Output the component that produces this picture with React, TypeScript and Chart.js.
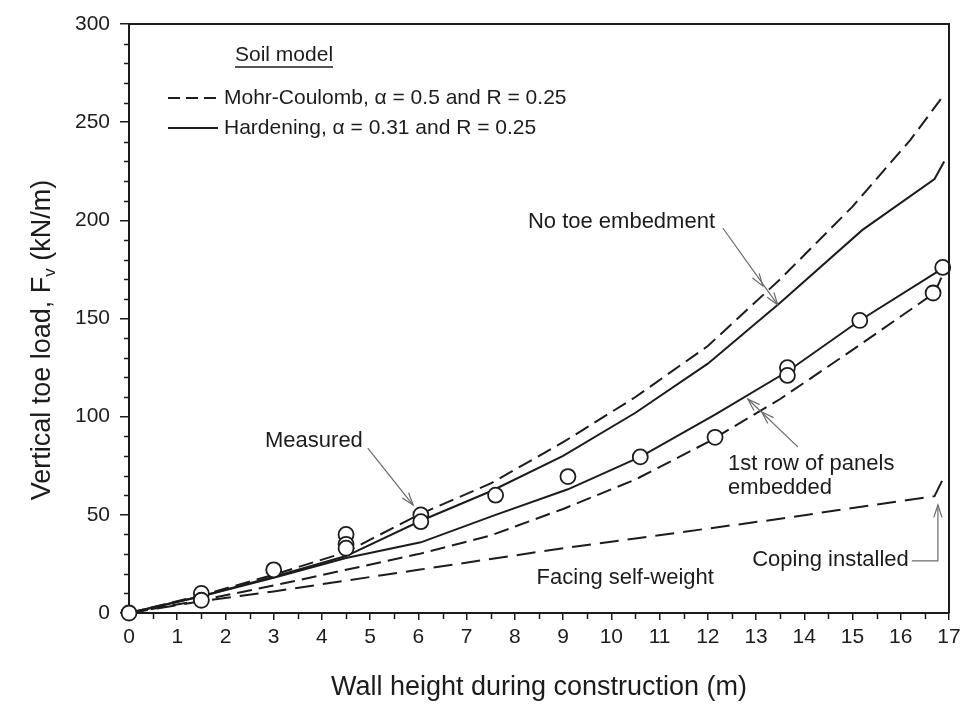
import { useEffect, useRef } from "react";
import { Chart, registerables } from "chart.js";

Chart.register(...registerables);

const FONT = '"Liberation Sans", Arial, Helvetica, sans-serif';
const INK = "#1c1c1c";
const ARROW = "#6a6a6a";

// Mohr-Coulomb model, no toe embedment
const mcNoToeHeight = [0, 1.5, 3, 4.5, 6, 7.5, 9, 10.5, 12, 13.5, 15, 16.2, 16.9];
const mcNoToeLoad = [0, 9, 19.5, 31, 50, 66, 87, 110, 136, 170, 207, 241, 264];

// Hardening model, no toe embedment
const hsNoToeHeight = [0, 1.5, 3, 4.5, 6.05, 7.5, 9, 10.5, 12, 13.5, 15.2, 16.7, 16.9];
const hsNoToeLoad = [0, 8.5, 18.5, 29, 47, 62, 80, 102, 127, 158, 195, 221, 230];

// Hardening model, 1st row of panels embedded
const hsEmbHeight = [0, 1.5, 3, 4.5, 6.05, 7.6, 9.1, 10.6, 12.15, 13.65, 15.15, 16.87];
const hsEmbLoad = [0, 8.5, 18, 28, 36, 50, 63, 79.5, 101, 123, 149, 175.5];

// Mohr-Coulomb model, 1st row of panels embedded
const mcEmbHeight = [0, 1.5, 3, 4.5, 6, 7.5, 9, 10.5, 12, 13.5, 15, 16.7, 16.9];
const mcEmbLoad = [0, 6.5, 14, 22, 30, 39.5, 53, 68, 87, 109, 134, 163, 174];

// Facing self-weight (coping added at the end)
const facingHeight = [0, 1.5, 3, 4.5, 6, 7.5, 9, 10.5, 12, 13.5, 15, 16.7, 16.9];
const facingLoad = [0, 6, 11, 16.5, 22, 27.5, 33, 38, 43, 48, 53.5, 59.5, 69.5];

// Measured toe loads
const measuredHeight = [0, 1.5, 1.5, 3, 4.5, 4.5, 4.5, 6.05, 6.05, 7.6, 9.1, 10.6, 12.15, 13.65, 13.65, 15.15, 16.67, 16.87];
const measuredLoad = [0, 10, 6.5, 22, 40, 35, 33, 50, 46.5, 60, 69.5, 79.5, 89.5, 125, 121, 149, 163, 176];

const xTicks = [0, 1, 2, 3, 4, 5, 6, 7, 8, 9, 10, 11, 12, 13, 14, 15, 16, 17];
const yTicks = [0, 50, 100, 150, 200, 250, 300];

const legendTitle = "Soil model";
const legendMC = "Mohr-Coulomb, \u03b1 = 0.5 and R = 0.25";
const legendHS = "Hardening, \u03b1 = 0.31 and R = 0.25";

const pts = (xs: number[], ys: number[]) => xs.map((x, i) => ({ x, y: ys[i] }));

const MC_DASH = [15, 7];
const FACING_DASH = [19, 9];

function arrowHead(ctx: CanvasRenderingContext2D, fx: number, fy: number, tx: number, ty: number) {
  const ang = Math.atan2(ty - fy, tx - fx);
  const len = 13;
  const spread = 0.32;
  ctx.beginPath();
  ctx.moveTo(tx - len * Math.cos(ang - spread), ty - len * Math.sin(ang - spread));
  ctx.lineTo(tx, ty);
  ctx.lineTo(tx - len * Math.cos(ang + spread), ty - len * Math.sin(ang + spread));
  ctx.stroke();
}

const decorations = {
  id: "decorations",
  afterDraw(chart: any) {
    const { ctx, chartArea, scales } = chart;
    const xs = scales.x;
    const ys = scales.y;
    const X = (v: number) => xs.getPixelForValue(v);
    const Y = (v: number) => ys.getPixelForValue(v);
    ctx.save();

    // frame: top and right edges
    ctx.strokeStyle = INK;
    ctx.lineWidth = 2;
    ctx.beginPath();
    ctx.moveTo(chartArea.left, chartArea.top);
    ctx.lineTo(chartArea.right, chartArea.top);
    ctx.lineTo(chartArea.right, chartArea.bottom);
    ctx.stroke();

    // minor ticks
    ctx.lineWidth = 1.5;
    ctx.beginPath();
    for (let v = 10; v < 300; v += 10) {
      if (v % 50 === 0) continue;
      const py = Math.round(Y(v)) + 0.5;
      ctx.moveTo(chartArea.left - 5, py);
      ctx.lineTo(chartArea.left, py);
    }
    for (let v = 0.5; v < 17; v += 1) {
      const px = Math.round(X(v)) + 0.5;
      ctx.moveTo(px, chartArea.bottom);
      ctx.lineTo(px, chartArea.bottom + 6);
    }
    ctx.stroke();

    // axis titles
    ctx.fillStyle = INK;
    ctx.font = `27px ${FONT}`;
    ctx.textAlign = "center";
    ctx.textBaseline = "middle";
    ctx.fillText("Wall height during construction (m)", (chartArea.left + chartArea.right) / 2, 688);

    ctx.save();
    ctx.translate(40, 340);
    ctx.rotate(-Math.PI / 2);
    const partA = "Vertical toe load, F";
    const partSub = "v";
    const partB = " (kN/m)";
    ctx.font = `27px ${FONT}`;
    const wA = ctx.measureText(partA).width;
    const wB = ctx.measureText(partB).width;
    ctx.font = `17px ${FONT}`;
    const wS = ctx.measureText(partSub).width;
    const total = wA + wS + wB;
    let cx = -total / 2;
    ctx.textAlign = "left";
    ctx.textBaseline = "alphabetic";
    ctx.font = `27px ${FONT}`;
    ctx.fillText(partA, cx, 10);
    cx += wA;
    ctx.font = `17px ${FONT}`;
    ctx.fillText(partSub, cx, 15);
    cx += wS;
    ctx.font = `27px ${FONT}`;
    ctx.fillText(partB, cx, 10);
    ctx.restore();

    // legend
    ctx.font = `21px ${FONT}`;
    ctx.textAlign = "left";
    ctx.textBaseline = "middle";
    ctx.fillText(legendTitle, 235, 55);
    const tw = ctx.measureText(legendTitle).width;
    ctx.lineWidth = 1.4;
    ctx.strokeStyle = INK;
    ctx.beginPath();
    ctx.moveTo(235, 67);
    ctx.lineTo(235 + tw, 67);
    ctx.stroke();

    ctx.lineWidth = 2;
    ctx.setLineDash([12, 6]);
    ctx.beginPath();
    ctx.moveTo(168, 98);
    ctx.lineTo(218, 98);
    ctx.stroke();
    ctx.setLineDash([]);
    ctx.beginPath();
    ctx.moveTo(168, 128);
    ctx.lineTo(218, 128);
    ctx.stroke();
    ctx.fillText(legendMC, 224, 98);
    ctx.fillText(legendHS, 224, 128);

    // annotations
    ctx.font = `22px ${FONT}`;
    ctx.fillStyle = INK;
    ctx.fillText("No toe embedment", X(8.27), Y(199.2));
    ctx.fillText("Measured", X(2.82), Y(87.6));
    ctx.fillText("1st row of panels", X(12.42), Y(75.9));
    ctx.fillText("embedded", X(12.42), Y(63.7));
    ctx.fillText("Facing self-weight", X(8.45), Y(17.8));
    ctx.fillText("Coping installed", X(12.92), Y(27));

    ctx.strokeStyle = ARROW;
    ctx.lineWidth = 1.2;

    // No toe embedment: one leader with two heads
    let fx = X(12.31), fy = Y(196.1);
    let t1x = X(13.14), t1y = Y(166.6);
    let t2x = X(13.45), t2y = Y(156.9);
    ctx.beginPath();
    ctx.moveTo(fx, fy);
    ctx.lineTo(t2x, t2y);
    ctx.stroke();
    arrowHead(ctx, fx, fy, t1x, t1y);
    arrowHead(ctx, fx, fy, t2x, t2y);

    // Measured
    fx = X(4.95); fy = Y(84);
    t1x = X(5.89); t1y = Y(55);
    ctx.beginPath();
    ctx.moveTo(fx, fy);
    ctx.lineTo(t1x, t1y);
    ctx.stroke();
    arrowHead(ctx, fx, fy, t1x, t1y);

    // 1st row of panels embedded
    fx = X(13.87); fy = Y(84.5);
    t1x = X(13.12); t1y = Y(102.4);
    t2x = X(12.83); t2y = Y(109);
    ctx.beginPath();
    ctx.moveTo(fx, fy);
    ctx.lineTo(t2x, t2y);
    ctx.stroke();
    arrowHead(ctx, fx, fy, t1x, t1y);
    arrowHead(ctx, fx, fy, t2x, t2y);

    // Coping installed
    const cyy = Y(26.5);
    const c1 = X(16.23), c2 = X(16.77);
    ctx.beginPath();
    ctx.moveTo(c1, cyy);
    ctx.lineTo(c2, cyy);
    ctx.lineTo(c2, Y(55));
    ctx.stroke();
    arrowHead(ctx, c2, cyy, c2, Y(55));

    ctx.restore();
  },
};

export default function App() {
  const ref = useRef<HTMLCanvasElement>(null);

  useEffect(() => {
    document.body.style.margin = "0";
    const canvas = ref.current;
    if (!canvas) return;
    const line = (xs: number[], ys: number[], dash: number[]) => ({
      data: pts(xs, ys),
      showLine: true,
      borderColor: INK,
      borderWidth: 2,
      borderDash: dash,
      pointRadius: 0,
      fill: false,
      tension: 0,
      order: 2,
    });
    const chart = new Chart(canvas, {
      type: "scatter",
      data: {
        datasets: [
          {
            data: pts(measuredHeight, measuredLoad),
            showLine: false,
            pointRadius: 7.5,
            pointBackgroundColor: "#ffffff",
            pointBorderColor: INK,
            pointBorderWidth: 1.8,
            order: 0,
          } as any,
          line(mcNoToeHeight, mcNoToeLoad, MC_DASH),
          line(hsNoToeHeight, hsNoToeLoad, []),
          line(hsEmbHeight, hsEmbLoad, []),
          line(mcEmbHeight, mcEmbLoad, MC_DASH),
          line(facingHeight, facingLoad, FACING_DASH),
        ],
      },
      options: {
        animation: false,
        responsive: false,
        events: [],
        clip: false as any,
        layout: { padding: { top: 24, right: 13, left: 0, bottom: 0 } },
        plugins: { legend: { display: false }, tooltip: { enabled: false } },
        scales: {
          x: {
            type: "linear",
            min: 0,
            max: 17,
            afterFit: (s: any) => {
              s.height = 98;
              s.paddingLeft = 0;
              s.paddingRight = 0;
            },
            afterBuildTicks: (s: any) => {
              s.ticks = xTicks.map((v) => ({ value: v }));
            },
            ticks: {
              font: { family: FONT, size: 21 },
              color: INK,
              padding: 5,
              maxRotation: 0,
              autoSkip: false,
            },
            grid: { drawOnChartArea: false, drawTicks: true, tickLength: 7, color: INK, lineWidth: 1.5 },
            border: { display: true, color: INK, width: 2 },
          },
          y: {
            type: "linear",
            min: 0,
            max: 300,
            afterFit: (s: any) => {
              s.width = 129;
              s.paddingTop = 0;
              s.paddingBottom = 0;
            },
            afterBuildTicks: (s: any) => {
              s.ticks = yTicks.map((v) => ({ value: v }));
            },
            ticks: {
              font: { family: FONT, size: 21 },
              color: INK,
              padding: 10,
              autoSkip: false,
            },
            grid: { drawOnChartArea: false, drawTicks: true, tickLength: 9, color: INK, lineWidth: 1.5 },
            border: { display: true, color: INK, width: 2 },
          },
        },
      },
      plugins: [decorations],
    });
    return () => chart.destroy();
  }, []);

  return (
    <div style={{ width: 962, height: 711, background: "#ffffff" }}>
      <canvas ref={ref} width={962} height={711} style={{ width: 962, height: 711, display: "block" }} />
    </div>
  );
}
